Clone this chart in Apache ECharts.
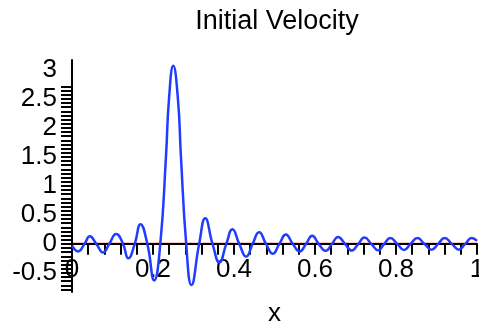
<!DOCTYPE html>
<html>
<head>
<meta charset="utf-8">
<script src="https://cdn.jsdelivr.net/npm/echarts@6/dist/echarts.min.js"></script>
<style>
html,body{margin:0;padding:0;background:#fff;}
#c{width:479px;height:322px;}
</style>
</head>
<body>
<div id="c"></div>
<script>
// x positions and velocity values
var xs = [0.000,0.015,0.031,0.044,0.060,0.077,0.092,0.109,0.126,0.139,0.155,0.169,0.186,0.203,0.218,0.232,0.2395,0.250,0.2615,0.269,0.282,0.295,0.314,0.329,0.347,0.364,0.381,0.396,0.413,0.430,0.446,0.462,0.479,0.496,0.512,0.528,0.545,0.562,0.578,0.593,0.609,0.626,0.642,0.657,0.674,0.691,0.707,0.722,0.739,0.756,0.771,0.786,0.803,0.820,0.836,0.853,0.870,0.888,0.904,0.920,0.938,0.955,0.971,0.987,1.000];
var velocity = [-0.03,-0.13,0,0.13,0,-0.15,0,0.17,0,-0.25,0,0.34,0,-0.63,0,1.5,2.5,3.07,2.5,1.5,0,-0.71,0,0.44,0,-0.32,0,0.25,0,-0.22,0,0.20,0,-0.17,0,0.16,0,-0.13,0,0.14,0,-0.12,0,0.12,0,-0.115,0,0.11,0,-0.11,0,0.10,0,-0.105,0,0.10,0,-0.10,0,0.10,0,-0.10,0,0.10,0.05];
// the red zero line
var zeroX = [0, 1];
var zeroY = [0, 0];
// tick labels
var xLabelValues = [0, 0.2, 0.4, 0.6, 0.8, 1];
var xLabelTexts = ['0', '0.2', '0.4', '0.6', '0.8', '1'];
var yLabelValues = [-0.5, 0, 0.5, 1, 1.5, 2, 2.5, 3];
var yLabelTexts = ['-0.5', '0', '0.5', '1', '1.5', '2', '2.5', '3'];

var xTicks = [];
for (var i = 0; i <= 25; i++) xTicks.push(+(i * 0.04).toFixed(4));
var yTicks = [];
var ystep = 0.5 / 7;
for (var k = -5; k <= 45; k++) {
  var v = -0.5 + k * ystep;
  if (v >= -0.83 && v <= 3.17) yTicks.push(+v.toFixed(5));
}

var blueData = xs.map(function (x, i) { return [x, velocity[i]]; });
var redData = zeroX.map(function (x, i) { return [x, zeroY[i]]; });

var FONT = 'Liberation Sans';
var chart = echarts.init(document.getElementById('c'), null, {renderer: 'canvas'});
chart.setOption({
  animation: false,
  backgroundColor: '#fff',
  title: {
    text: 'Initial Velocity',
    left: 272,
    top: 3,
    textAlign: 'center',
    textStyle: {fontFamily: FONT, fontSize: 27, fontWeight: 'normal', color: '#000'}
  },
  grid: {left: 72, right: 2, top: 60, bottom: 30, containLabel: false, outerBoundsMode: 'none'},
  xAxis: {
    type: 'value',
    min: 0, max: 1,
    z: 2.5,
    name: 'x',
    nameLocation: 'middle',
    nameGap: 9,
    nameTextStyle: {fontFamily: FONT, fontSize: 26, color: '#000'},
    axisLine: {onZero: true, lineStyle: {color: '#000', width: 2}},
    axisTick: {show: true, length: 11, customValues: xTicks, lineStyle: {color: '#000', width: 2}},
    axisLabel: {
      customValues: xLabelValues,
      margin: -35,
      showMinLabel: true, showMaxLabel: true, hideOverlap: false,
      fontFamily: FONT, fontSize: 26, color: '#000',
      formatter: function (v) { var i = xLabelValues.indexOf(v); return i >= 0 ? xLabelTexts[i] : ''; }
    },
    splitLine: {show: false}
  },
  yAxis: {
    type: 'value',
    min: -0.83, max: 3.17,
    z: 2.5,
    axisLine: {show: true, lineStyle: {color: '#000', width: 2}},
    axisTick: {show: true, length: 11, customValues: yTicks, lineStyle: {color: '#000', width: 2}},
    axisLabel: {
      customValues: yLabelValues,
      margin: 15,
      showMinLabel: true, showMaxLabel: true, hideOverlap: false,
      fontFamily: FONT, fontSize: 26, color: '#000',
      formatter: function (v) {
        for (var i = 0; i < yLabelValues.length; i++) if (Math.abs(yLabelValues[i] - v) < 1e-6) return yLabelTexts[i];
        return '';
      }
    },
    splitLine: {show: false}
  },
  series: [
    {
      type: 'line', data: redData, z: 1, symbol: 'none',
      lineStyle: {color: '#ff2a00', width: 2.4}
    },
    {
      type: 'line', data: blueData, z: 3, symbol: 'none', smooth: 0.5,
      lineStyle: {color: '#1f3cff', width: 2.5}
    }
  ]
});
</script>
</body>
</html>
